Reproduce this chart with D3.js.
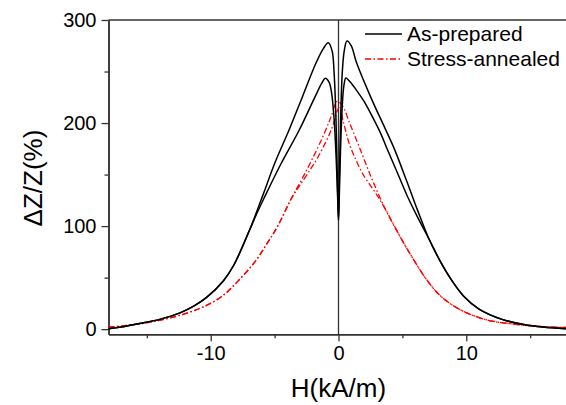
<!DOCTYPE html>
<html>
<head>
<meta charset="utf-8">
<script src="https://cdn.jsdelivr.net/npm/d3@7"></script>
<style>
    body { margin: 0; background: #fff; }
    svg { display: block; font-family: "Liberation Sans", Arial, sans-serif; }
</style>
</head>
<body>
<div id="chart"></div>
<script>
// values: [H (kA/m), dZ/Z (%)]
const asPreparedUpper = [
    [-18, 0.3], [-17, 2], [-15.4, 5.8], [-14, 9.5], [-12.4, 15.8], [-11.3, 22.5], [-10.3, 31],
    [-9.0, 47], [-8.2, 62], [-7.0, 95], [-5.96, 128.6], [-4.99, 161], [-3.87, 193.3],
    [-2.82, 225.6], [-1.77, 258], [-1.2, 272], [-0.8, 278], [-0.5, 270], [-0.35, 250],
    [-0.2, 205], [-0.08, 140], [0, 106], [0.06, 140], [0.18, 210], [0.3, 250], [0.45, 270],
    [0.66, 279.6], [1.0, 275], [1.4, 259], [2.6, 223], [3.6, 196], [4.4, 174], [5.3, 145],
    [6.2, 115], [7.1, 87], [8.0, 65], [8.8, 48.5], [9.8, 32], [11.0, 19.5], [12.8, 9.5],
    [14.5, 4.5], [16, 2], [18, 0.3]
];
const asPreparedLower = [
    [-18, 0.3], [-17, 2], [-15.4, 5.8], [-14, 9.5], [-12.4, 15.8], [-11.3, 22.5], [-10.3, 31],
    [-9.0, 47], [-8.2, 62], [-7.0, 95], [-6.4, 112], [-5.83, 127], [-4.52, 160], [-3.08, 193],
    [-1.83, 225.6], [-1.3, 239], [-1.04, 243.4], [-0.75, 240], [-0.55, 230], [-0.35, 205],
    [-0.18, 165], [-0.06, 125], [0, 106], [0.06, 128], [0.15, 170], [0.3, 218], [0.42, 236],
    [0.58, 243.7], [0.9, 240], [1.4, 232], [2.0, 221], [2.7, 205], [3.3, 190], [3.8, 175],
    [4.6, 152], [5.5, 126], [6.3, 106], [7.1, 87], [8.0, 65], [8.8, 48.5], [9.8, 32],
    [11.0, 19.5], [12.8, 9.5], [14.5, 4.5], [16, 2], [18, 0.3]
];
const annealedOuter = [
    [-18, 2], [-17, 3], [-15.1, 6], [-13.5, 10], [-12, 15], [-10.5, 22], [-9.1, 32],
    [-7.8, 47.5], [-6.5, 66], [-5.6, 83], [-4.8, 99], [-3.7, 126.5], [-3.0, 142.5],
    [-2.3, 159], [-1.25, 186], [-0.6, 205.5], [-0.1, 221], [0.3, 217], [0.9, 199],
    [1.62, 177], [2.54, 148], [3.6, 118], [4.9, 88], [5.8, 69], [6.9, 48], [8.0, 32],
    [9.5, 19], [11.6, 9], [14, 4.5], [16, 2.5], [18, 1.5]
];
const annealedInner = [
    [-18, 2], [-17, 3], [-15.1, 6], [-13.5, 10], [-12, 15], [-10.5, 22], [-9.1, 32],
    [-7.8, 47.5], [-6.5, 66], [-5.6, 83], [-4.8, 99], [-3.7, 126.5], [-3.0, 140],
    [-2.2, 155], [-1.7, 165], [-0.75, 188], [-0.4, 199], [0.05, 215], [0.4, 200],
    [0.84, 180], [1.3, 166], [1.88, 151], [2.8, 134], [3.6, 118], [4.9, 88], [5.8, 69],
    [6.9, 48], [8.0, 32], [9.5, 19], [11.6, 9], [14, 4.5], [16, 2.5], [18, 1.5]
];

const xTicks = [-10, 0, 10];
const xMinorTicks = [-15, -5, 5, 15];
const yTicks = [0, 100, 200, 300];
const yMinorTicks = [50, 150, 250];
const legendLabels = ["As-prepared", "Stress-annealed"];

const width = 566;
const height = 405;
const margin = { top: 20, right: -2.5, bottom: 70.7, left: 108.5 };
const axisColor = "#333";
const dashDot = "6,2.5,1.5,2.5";

const svg = d3.select("#chart")
    .append("svg")
    .attr("width", width)
    .attr("height", height);

const x = d3.scaleLinear()
    .domain([-18, 18])
    .range([margin.left, width - margin.right]);

const y = d3.scaleLinear()
    .domain([-5, 300])
    .range([height - margin.bottom, margin.top]);

// axes
function styleAxis(g) {
    g.select(".domain").attr("stroke", axisColor).attr("stroke-width", 1.5);
    g.selectAll(".tick line").attr("stroke", axisColor).attr("stroke-width", 1.3);
    g.selectAll(".tick text").attr("fill", "#000").style("font-size", "20px");
}

const plain = d => String(d);

svg.append("g")
    .attr("transform", `translate(0, ${height - margin.bottom})`)
    .call(d3.axisBottom(x).tickValues(xMinorTicks).tickSize(4).tickSizeOuter(0).tickFormat(""))
    .call(styleAxis);

svg.append("g")
    .attr("transform", `translate(0, ${height - margin.bottom})`)
    .call(d3.axisBottom(x).tickValues(xTicks).tickSize(7).tickSizeOuter(0).tickPadding(5).tickFormat(plain))
    .call(styleAxis);

svg.append("g")
    .attr("transform", `translate(${margin.left}, 0)`)
    .call(d3.axisLeft(y).tickValues(yMinorTicks).tickSize(4).tickSizeOuter(0).tickFormat(""))
    .call(styleAxis);

svg.append("g")
    .attr("transform", `translate(${margin.left}, 0)`)
    .call(d3.axisLeft(y).tickValues(yTicks).tickSize(7).tickSizeOuter(0).tickPadding(5).tickFormat(plain))
    .call(styleAxis);

// top frame line and H = 0 line
svg.append("line")
    .attr("x1", x(-18)).attr("x2", x(18))
    .attr("y1", y(300)).attr("y2", y(300))
    .attr("stroke", axisColor).attr("stroke-width", 1.5);

svg.append("line")
    .attr("x1", x(0)).attr("x2", x(0))
    .attr("y1", y(300)).attr("y2", y(-5))
    .attr("stroke", axisColor).attr("stroke-width", 1.3);

// curves
const line = d3.line()
    .x(d => x(d[0]))
    .y(d => y(d[1]))
    .curve(d3.curveCatmullRom.alpha(0.5));

[annealedOuter, annealedInner].forEach(data => {
    svg.append("path")
        .datum(data)
        .attr("fill", "none")
        .attr("stroke", "#ff0000")
        .attr("stroke-width", 1.3)
        .attr("stroke-dasharray", dashDot)
        .attr("d", line);
});

[asPreparedUpper, asPreparedLower].forEach(data => {
    svg.append("path")
        .datum(data)
        .attr("fill", "none")
        .attr("stroke", "#000")
        .attr("stroke-width", 1.5)
        .attr("d", line);
});

// axis titles
svg.append("text")
    .attr("x", x(0))
    .attr("y", 397)
    .attr("text-anchor", "middle")
    .style("font-size", "26px")
    .text("H(kA/m)");

svg.append("text")
    .attr("transform", "translate(42, 178) rotate(-90)")
    .attr("text-anchor", "middle")
    .style("font-size", "26px")
    .text("ΔZ/Z(%)");

// legend
const legend = svg.append("g");
legendLabels.forEach((label, i) => {
    const ly = 34 + i * 25;
    legend.append("line")
        .attr("x1", 365).attr("x2", 402)
        .attr("y1", ly).attr("y2", ly)
        .attr("stroke", i === 0 ? "#000" : "#ff0000")
        .attr("stroke-width", i === 0 ? 1.5 : 1.3)
        .attr("stroke-dasharray", i === 0 ? null : dashDot);
    legend.append("text")
        .attr("x", 407)
        .attr("y", ly + 7)
        .style("font-size", "21px")
        .text(label);
});
</script>
</body>
</html>
